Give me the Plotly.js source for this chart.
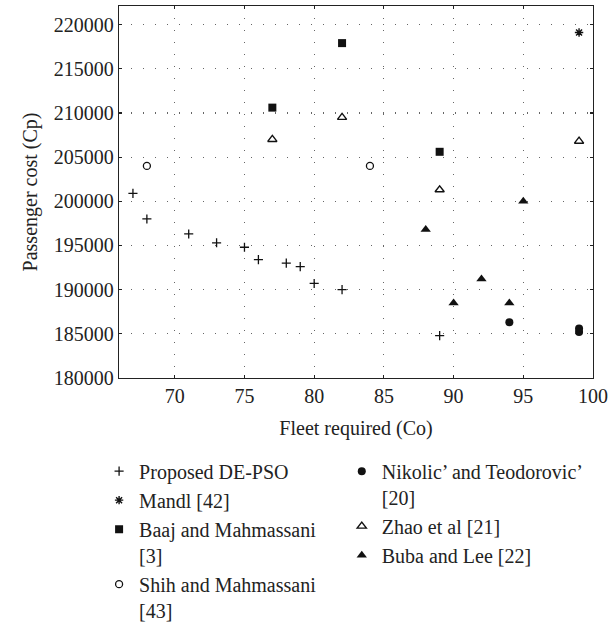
<!DOCTYPE html>
<html>
<head>
<meta charset="utf-8">
<script src="https://cdn.plot.ly/plotly-3.0.1.min.js"></script>
<style>html,body{margin:0;padding:0;background:#fff;}</style>
</head>
<body>
<div id="chart" style="width:610px;height:629px;"></div>
<script>
// Data
const proposedX = [67, 68, 71, 73, 75, 76, 78, 79, 80, 82, 89];
const proposedY = [200900, 198000, 196300, 195300, 194800, 193400, 193000, 192600, 190700, 190000, 184800];

const mandlX = [99];
const mandlY = [219100];

const baajX = [77, 82, 89];
const baajY = [210600, 217900, 205600];

const shihX = [68, 84];
const shihY = [204000, 204000];

const nikolicX = [94, 99, 99];
const nikolicY = [186300, 185200, 185600];

const zhaoX = [77, 82, 89, 99];
const zhaoY = [207000, 209500, 201300, 206800];

const bubaX = [88, 90, 92, 94, 95];
const bubaY = [196800, 188500, 191200, 188500, 200000];

const names = {
  proposed: 'Proposed DE-PSO',
  mandl: 'Mandl [42]',
  baaj: 'Baaj and Mahmassani<br>[3]',
  shih: 'Shih and Mahmassani<br>[43]',
  nikolic: 'Nikolic\u2019 and Teodorovic\u2019<br>[20]',
  zhao: 'Zhao et al [21]',
  buba: 'Buba and Lee [22]'
};

const FONT = 'Liberation Serif';

const traces = [
  {x: proposedX, y: proposedY, name: names.proposed, mode: 'markers', type: 'scatter', legend: 'legend',
   marker: {symbol: 'cross-thin', size: 6.5, color: '#111', line: {color: '#111', width: 1.3}}},
  {x: mandlX, y: mandlY, name: names.mandl, mode: 'markers', type: 'scatter', legend: 'legend',
   marker: {symbol: 'asterisk-open', size: 7, color: '#111', line: {color: '#111', width: 1.4}}},
  {x: baajX, y: baajY, name: names.baaj, mode: 'markers', type: 'scatter', legend: 'legend',
   marker: {symbol: 'square', size: 8, color: '#111', line: {width: 0}}},
  {x: shihX, y: shihY, name: names.shih, mode: 'markers', type: 'scatter', legend: 'legend',
   marker: {symbol: 'circle-open', size: 7, color: '#111', line: {color: '#111', width: 1.3}}},
  {x: nikolicX, y: nikolicY, name: names.nikolic, mode: 'markers', type: 'scatter', legend: 'legend2',
   marker: {symbol: 'circle', size: 8, color: '#111', line: {width: 0}}},
  {x: zhaoX, y: zhaoY, name: names.zhao, mode: 'markers', type: 'scatter', legend: 'legend2',
   marker: {symbol: 'triangle-up-open', size: 8, color: '#111', line: {color: '#111', width: 1.4}}},
  {x: bubaX, y: bubaY, name: names.buba, mode: 'markers', type: 'scatter', legend: 'legend2',
   marker: {symbol: 'triangle-up', size: 9, color: '#111', line: {width: 0}}}
];

const axisCommon = {
  showline: true, linecolor: '#222', linewidth: 1.3, mirror: 'ticks',
  ticks: 'inside', ticklen: 3, tickcolor: '#222', tickwidth: 1.2,
  showgrid: true, gridcolor: '#666', gridwidth: 1.2, griddash: '1px,11px',
  zeroline: false,
  tickfont: {family: FONT, size: 20, color: '#222'}
};

const layout = {
  width: 610, height: 629,
  margin: {l: 119, r: 17, t: 6, b: 251, autoexpand: false},
  paper_bgcolor: '#fff', plot_bgcolor: '#fff',
  font: {family: FONT, size: 20, color: '#222'},
  showlegend: true,
  xaxis: Object.assign({}, axisCommon, {
    range: [66, 100], tick0: 0, dtick: 5, automargin: false,
    title: {text: 'Fleet required (Co)', font: {family: FONT, size: 20, color: '#222'}, standoff: 14}
  }),
  yaxis: Object.assign({}, axisCommon, {
    range: [180000, 222100], tick0: 0, dtick: 5000, tickformat: 'd', automargin: false,
    title: {text: 'Passenger cost (Cp)', font: {family: FONT, size: 20, color: '#222'}, standoff: 10}
  }),
  legend: {
    x: -0.042, xanchor: 'left', y: -0.198, yanchor: 'top',
    orientation: 'v', valign: 'top', traceorder: 'normal',
    font: {family: FONT, size: 20, color: '#222'},
    bgcolor: 'rgba(0,0,0,0)', borderwidth: 0, itemclick: false
  },
  legend2: {
    x: 0.47, xanchor: 'left', y: -0.198, yanchor: 'top',
    orientation: 'v', valign: 'top', traceorder: 'normal',
    font: {family: FONT, size: 20, color: '#222'},
    bgcolor: 'rgba(0,0,0,0)', borderwidth: 0, itemclick: false
  }
};

Plotly.newPlot('chart', traces, layout, {displayModeBar: false, staticPlot: true});
</script>
</body>
</html>
